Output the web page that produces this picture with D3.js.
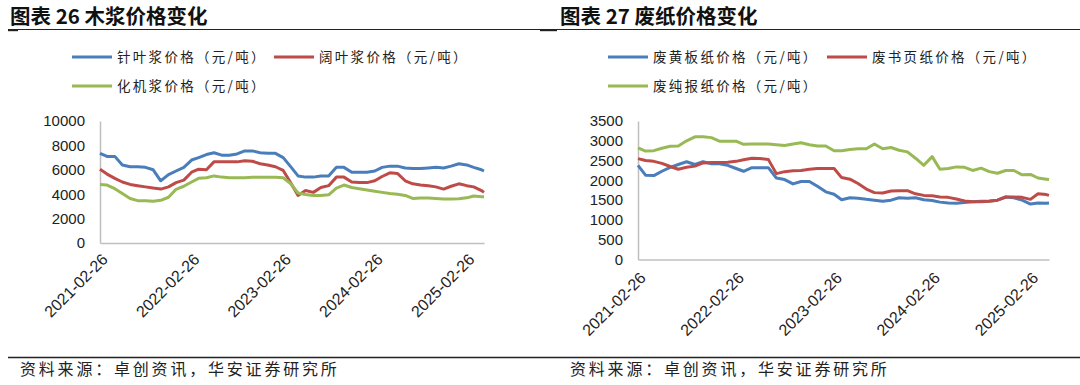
<!DOCTYPE html>
<html><head><meta charset="utf-8">
<script src="https://cdn.jsdelivr.net/npm/d3@7"></script>
<style>
html,body{margin:0;padding:0;background:#fff;}
svg{display:block;}
</style></head>
<body>
<svg id="c" width="1080" height="385"></svg>
<script>
// ---------- data ----------
const dates = ["2021-02-26","2021-03-26","2021-04-26","2021-05-26","2021-06-26","2021-07-26","2021-08-26","2021-09-26","2021-10-26","2021-11-26","2021-12-26",
"2022-01-26","2022-02-26","2022-03-26","2022-04-26","2022-05-26","2022-06-26","2022-07-26","2022-08-26","2022-09-26","2022-10-26","2022-11-26","2022-12-26",
"2023-01-26","2023-02-26","2023-03-26","2023-04-26","2023-05-26","2023-06-26","2023-07-26","2023-08-26","2023-09-26","2023-10-26","2023-11-26","2023-12-26",
"2024-01-26","2024-02-26","2024-03-26","2024-04-26","2024-05-26","2024-06-26","2024-07-26","2024-08-26","2024-09-26","2024-10-26","2024-11-26","2024-12-26",
"2025-01-26","2025-02-26","2025-03-26","2025-04-26","2025-05-06"];
const tickDates = ["2021-02-26","2022-02-26","2023-02-26","2024-02-26","2025-02-26"];

// 图表26 木浆
const pulpTicks = [0,2000,4000,6000,8000,10000];
const softwood = [7350,7100,7100,6400,6250,6250,6200,6000,5100,5600,5900,6200,6800,7000,7250,7400,7200,7200,7300,7550,7550,7400,7350,7350,7000,6300,5500,5400,5400,5500,5500,6200,6200,5800,5800,5800,5900,6200,6300,6300,6150,6100,6100,6150,6200,6150,6300,6500,6400,6200,6000,5900];
const hardwood = [6050,5650,5300,5000,4800,4700,4600,4500,4420,4600,4950,5150,5800,6050,6000,6650,6650,6650,6650,6750,6700,6500,6400,6250,5950,5000,3900,4300,4150,4550,4700,5400,5400,5000,4950,4950,5100,5450,5750,5700,5100,4850,4750,4700,4600,4420,4650,4850,4700,4600,4300,4150];
const mechanical = [4800,4750,4450,4050,3650,3470,3470,3420,3500,3750,4400,4650,5000,5300,5350,5500,5400,5350,5350,5350,5380,5380,5380,5380,5350,4900,4100,3980,3900,3900,3950,4500,4750,4550,4450,4350,4250,4150,4050,4000,3900,3650,3680,3680,3650,3600,3600,3620,3700,3850,3800,3800];

// 图表27 废纸
const paperTicks = [0,500,1000,1500,2000,2500,3000,3500];
const occ = [2380,2130,2120,2230,2330,2400,2470,2400,2470,2420,2420,2380,2300,2230,2320,2320,2320,2060,2020,1910,1970,1970,1850,1710,1650,1510,1560,1550,1520,1500,1470,1500,1560,1550,1560,1510,1490,1450,1430,1420,1440,1460,1470,1480,1500,1580,1560,1500,1400,1430,1420,1430];
const bookPaper = [2550,2500,2480,2430,2350,2280,2330,2360,2440,2450,2450,2460,2480,2520,2560,2550,2530,2170,2220,2240,2250,2280,2300,2300,2300,2070,2030,1920,1780,1690,1680,1730,1740,1740,1660,1620,1610,1580,1570,1530,1480,1460,1460,1470,1500,1580,1580,1570,1520,1660,1640,1620];
const newsPaper = [2820,2740,2750,2810,2860,2870,3000,3100,3100,3080,2990,2990,2990,2910,2920,2920,2920,2900,2880,2920,2950,2900,2870,2870,2750,2750,2780,2800,2800,2920,2800,2830,2760,2720,2560,2380,2600,2280,2300,2340,2330,2250,2310,2220,2180,2250,2250,2140,2150,2060,2030,2020];

const colors = {blue:"#4a7ebb", red:"#be4b48", green:"#98b954"};

// ---------- drawing ----------
const svg = d3.select("#c");
const parse = d3.timeParse("%Y-%m-%d");
const fmt = d3.timeFormat("%Y-%m-%d");
const D = dates.map(parse);
const T = tickDates.map(parse);
const CJK = "'Noto Sans CJK SC','Noto Sans',sans-serif";
const LAT = "'Liberation Sans',Arial,sans-serif";

// header rule and footer rule
svg.append("line").attr("x1",8).attr("x2",1080).attr("y1",29.5).attr("y2",29.5).attr("stroke","#222").attr("stroke-width",1);
svg.append("line").attr("x1",8).attr("x2",1080).attr("y1",357.5).attr("y2",357.5).attr("stroke","#222").attr("stroke-width",1.3);

function panel(o){
  const g = svg.append("g");
  // title
  g.append("rect").attr("x",o.ox).attr("y",29).attr("width",o.markW).attr("height",2.2).attr("fill","#222");
  g.append("text").attr("x",o.tx).attr("y",23.5).attr("font-family",CJK).attr("font-weight",700)
    .attr("font-size",20.5).attr("fill","#111").text(o.title);
  // legend
  o.series.forEach((s,i)=>{
    const lx = o.legX[i], ly = o.legY[i];
    g.append("line").attr("x1",lx).attr("x2",lx+40).attr("y1",ly).attr("y2",ly)
      .attr("stroke",s.color).attr("stroke-width",3);
    g.append("text").attr("x",lx+45).attr("y",ly).attr("dy","0.36em").attr("font-family",CJK)
      .attr("font-size",13.5).attr("letter-spacing",2.3).attr("fill","#222").text(s.name);
  });
  // scales
  const x = d3.scaleTime().domain([D[0], D[D.length-1]]).range([o.x0,o.x1]);
  const y = d3.scaleLinear().domain([0,o.ymax]).range([o.y0,o.y1]);
  // y axis
  const ya = g.append("g").attr("transform",`translate(${o.x0},0)`)
    .call(d3.axisLeft(y).tickValues(o.ticks).tickSize(0).tickPadding(15).tickFormat(d3.format("d")));
  ya.select(".domain").attr("stroke","#bfbfbf").attr("stroke-width",1.5);
  ya.selectAll("text").attr("font-family",LAT).attr("font-size",15).attr("fill","#222");
  // x axis
  const xa = g.append("g").attr("transform",`translate(0,${o.y0})`)
    .call(d3.axisBottom(x).tickValues(T).tickSize(0).tickFormat(fmt));
  xa.select(".domain").attr("stroke","#bfbfbf").attr("stroke-width",1.5);
  xa.selectAll("text").attr("font-family",LAT).attr("font-size",16).attr("fill","#222")
    .attr("text-anchor","end").attr("dy","0.3em").attr("dx",0)
    .attr("transform",`translate(5,${o.xlOff}) rotate(-45)`).attr("y",0).attr("x",0);
  // lines
  const line = d3.line().x((d,i)=>x(D[i])).y(d=>y(d));
  o.series.forEach(s=>{
    g.append("path").datum(s.values).attr("d",line).attr("fill","none")
      .attr("stroke",s.color).attr("stroke-width",3).attr("stroke-linejoin","round");
  });
  // footer
  g.append("text").attr("x",o.tx+10).attr("y",375).attr("font-family",CJK).attr("font-size",16)
    .attr("letter-spacing",2.8).attr("fill","#222").text("资料来源：卓创资讯，华安证券研究所");
}

panel({ox:8, markW:10, tx:10, title:"图表 26 木浆价格变化",
  legX:[72,274,72], legY:[57,57,86],
  series:[{name:"针叶浆价格（元/吨）",values:softwood,color:colors.blue},
          {name:"阔叶浆价格（元/吨）",values:hardwood,color:colors.red},
          {name:"化机浆价格（元/吨）",values:mechanical,color:colors.green}],
  x0:100, x1:484, y0:243, y1:121, ymax:10000, ticks:pulpTicks, xlOff:14});

panel({ox:540, markW:17, tx:560, title:"图表 27 废纸价格变化",
  legX:[608,827,608], legY:[57,57,86],
  series:[{name:"废黄板纸价格（元/吨）",values:occ,color:colors.blue},
          {name:"废书页纸价格（元/吨）",values:bookPaper,color:colors.red},
          {name:"废纯报纸价格（元/吨）",values:newsPaper,color:colors.green}],
  x0:638, x1:1049, y0:259.5, y1:121, ymax:3500, ticks:paperTicks, xlOff:16});
</script>
</body></html>
